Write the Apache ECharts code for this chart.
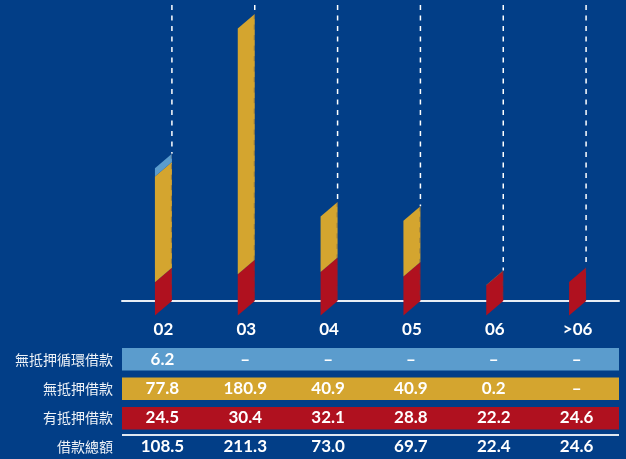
<!DOCTYPE html>
<html><head><meta charset="utf-8">
<script src="https://cdn.jsdelivr.net/npm/echarts@6/dist/echarts.min.js"></script>
<style>html,body{margin:0;padding:0;background:#023e87;}#c{width:626px;height:459px;}</style>
</head><body><div id="c"></div>
<script>
var categories = ['02', '03', '04', '05', '06', '>06'];
var revolving = [6.2, null, null, null, null, null];
var unsecured = [77.8, 180.9, 40.9, 40.9, 0.2, null];
var secured = [24.5, 30.4, 32.1, 28.8, 22.2, 24.6];
var totals = [108.5, 211.3, 73.0, 69.7, 22.4, 24.6];
var rowLabels = ['無抵押循環借款', '無抵押借款', '有抵押借款', '借款總額'];

var C_BG = '#023e87', C_BLUE = '#5b9ccd', C_GOLD = '#d4a52f', C_RED = '#b0111f';
var FONT = 'Lato, "Open Sans", sans-serif';
var CJK = '"Noto Sans CJK TC", "Noto Sans CJK SC", sans-serif';

var chart = echarts.init(document.getElementById('c'));
function fmt(v) { return v == null ? '–' : v.toFixed(1); }

var rowY = [359.5, 389, 418, 447];
var GL = 122, GR = 619;

var data = categories.map(function (c, i) { return [i]; });

function renderItem(params, api) {
  var i = api.value(0);
  var center = api.coord([i, 0]);
  var cx = center[0];
  var half = 8.5, shear = 14.5;
  var L = cx - half, R = cx + half;
  var segs = [[secured[i], C_RED], [unsecured[i], C_GOLD], [revolving[i], C_BLUE]];
  var children = [];
  var acc = 0;
  segs.forEach(function (s) {
    var v = s[0];
    if (v == null || v <= 0) return;
    var yb = api.coord([i, acc])[1];
    var yt = api.coord([i, acc + v])[1];
    acc += v;
    children.push({
      type: 'polygon',
      shape: { points: [[L, yb + shear], [L, yt + shear], [R, yt], [R, yb]] },
      style: { fill: s[1], stroke: null }
    });
  });
  var topY = api.coord([i, acc])[1];
  var gridTop = api.coord([i, 218])[1];
  children.push({
    type: 'line',
    shape: { x1: R, y1: gridTop, x2: R, y2: topY },
    style: { stroke: '#ffffff', lineWidth: 1.5, lineDash: [5, 5.5] }
  });
  children.push({
    type: 'line',
    shape: { x1: R - 0.5, y1: topY, x2: R - 0.5, y2: api.coord([i, 0])[1] },
    style: { stroke: 'rgba(70,70,90,0.45)', lineWidth: 1, lineDash: [5, 5.5] }
  });
  var vals = [revolving[i], unsecured[i], secured[i], totals[i]];
  vals.forEach(function (v, r) {
    children.push({
      type: 'text',
      style: {
        x: cx - 1, y: rowY[r], text: fmt(v), fill: '#ffffff',
        font: 'bold 17px ' + FONT, textAlign: 'center', textVerticalAlign: 'middle'
      }
    });
  });
  return { type: 'group', children: children };
}

var graphics = [
  { type: 'rect', shape: { x: GL, y: 348, width: GR - GL, height: 22.5 }, style: { fill: C_BLUE }, z: 0 },
  { type: 'rect', shape: { x: GL, y: 377.5, width: GR - GL, height: 22.5 }, style: { fill: C_GOLD }, z: 0 },
  { type: 'rect', shape: { x: GL, y: 407, width: GR - GL, height: 22.5 }, style: { fill: C_RED }, z: 0 },
  { type: 'line', shape: { x1: GL, y1: 435, x2: GR, y2: 435 }, style: { stroke: '#dfe7f0', lineWidth: 2 }, z: 0 }
];
rowLabels.forEach(function (t, r) {
  graphics.push({
    type: 'text', z: 1,
    style: { x: 113, y: rowY[r], text: t, fill: '#eef2f7', font: '14px ' + CJK, textAlign: 'right', textVerticalAlign: 'middle' }
  });
});

chart.setOption({
  backgroundColor: C_BG,
  animation: false,
  grid: { left: GL, right: 626 - GR, top: 5, bottom: 158 },
  xAxis: {
    type: 'category', data: categories,
    axisLine: { lineStyle: { color: '#e8eef5', width: 2 } },
    axisTick: { show: false },
    axisLabel: { color: '#ffffff', fontSize: 17, fontWeight: 'bold', fontFamily: FONT, margin: 20 }
  },
  yAxis: { type: 'value', min: 0, max: 218, show: false, splitLine: { show: false } },
  graphic: graphics,
  series: [{
    type: 'custom', renderItem: renderItem, data: data, z: 5,
    encode: { x: 0 }
  }]
});
</script></body></html>
